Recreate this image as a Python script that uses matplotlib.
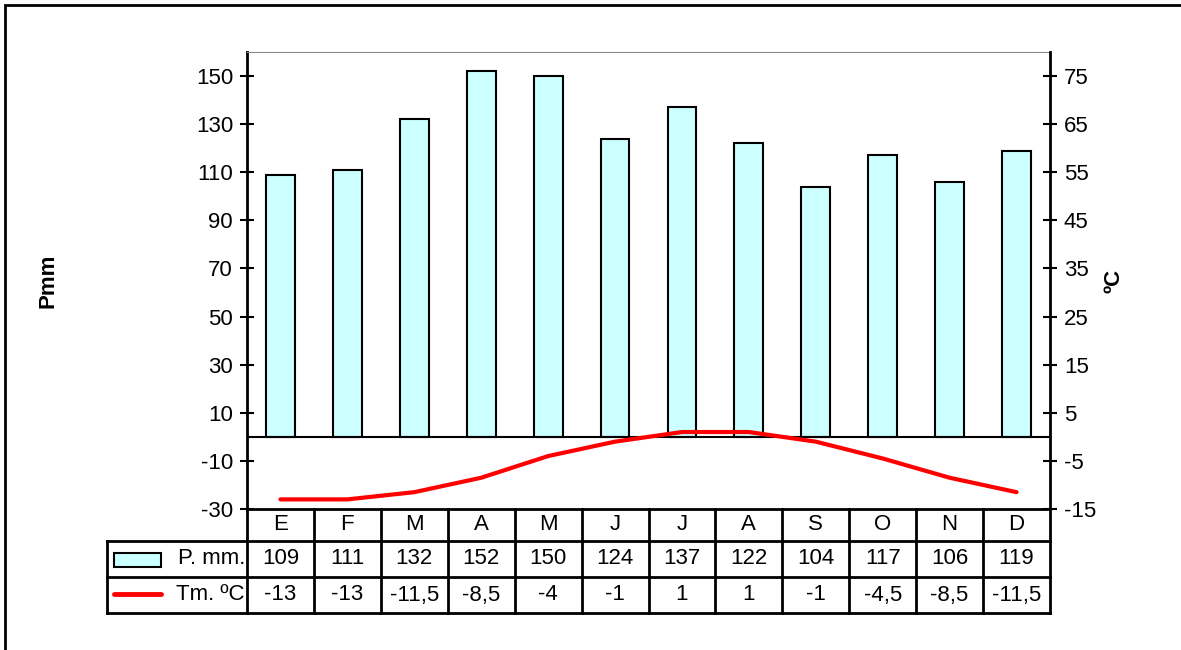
import numpy as np
import matplotlib
matplotlib.use('Agg')
import matplotlib.pyplot as plt
from matplotlib.transforms import blended_transform_factory
from matplotlib.patches import Rectangle
from matplotlib.lines import Line2D

plt.rcParams['font.family'] = ['Liberation Sans', 'DejaVu Sans']
plt.rcParams['axes.unicode_minus'] = False

months = ['E', 'F', 'M', 'A', 'M', 'J', 'J', 'A', 'S', 'O', 'N', 'D']
precip = [109, 111, 132, 152, 150, 124, 137, 122, 104, 117, 106, 119]
temp = [-13, -13, -11.5, -8.5, -4, -1, 1, 1, -1, -4.5, -8.5, -11.5]
temp_labels = ['-13', '-13', '-11,5', '-8,5', '-4', '-1', '1', '1', '-1', '-4,5', '-8,5', '-11,5']
p_ticks = list(range(-30, 151, 20))
t_ticks = list(range(-15, 76, 10))

fs = 16
fig = plt.figure(figsize=(11.81, 6.5), dpi=100)

# outer frame
fig.patches.append(Rectangle((5 / 1181, -0.1), 1.2, (645 / 650) + 0.1, transform=fig.transFigure,
                             fill=False, edgecolor='black', lw=2))

ax = fig.add_axes([247 / 1181, 1 - 509 / 650, 803 / 1181, 457 / 650])
x = np.arange(len(months))

ax.bar(x, precip, width=0.43, color='#ccffff', edgecolor='black', lw=1.5, zorder=2)
ax.axhline(0, color='black', lw=1.5, zorder=3)
ax.set_xlim(-0.5, 11.5)
ax.set_ylim(-30, 160)
ax.set_yticks(p_ticks)
ax.set_xticks([])
ax.tick_params(axis='y', direction='inout', length=10, width=1.5, labelsize=fs, pad=5)
ax.spines['top'].set_color('#888888')
ax.spines['left'].set_linewidth(2)
ax.spines['bottom'].set_linewidth(2)
ax.spines['right'].set_visible(False)
ax.set_ylabel('Pmm', fontsize=fs, fontweight='bold', labelpad=0)
ax.yaxis.set_label_coords(-0.235, 0.5)

ax2 = ax.twinx()
ax2.plot(x, temp, color='red', lw=3, zorder=4, solid_joinstyle='round', solid_capstyle='round')
ax2.set_ylim(-15, 80)
ax2.set_yticks(t_ticks)
ax2.tick_params(axis='y', direction='inout', length=10, width=1.5, labelsize=fs, pad=5)
for s in ['top', 'left', 'bottom']:
    ax2.spines[s].set_visible(False)
ax2.spines['right'].set_linewidth(2)
ax2.set_ylabel('ºC', fontsize=fs, fontweight='bold', rotation=90, labelpad=0)
ax2.yaxis.set_label_coords(1.067, 0.5)

# data table below the axes
tr = blended_transform_factory(ax.transData, ax.transAxes)
ah = 457.0
y_head_bot = -32 / ah
y_p_bot = -68 / ah
y_t_bot = -104 / ah
x_left = -0.5 - 140 / (803 / 12)
lw = 2

def hline(x0, x1, y):
    ax.add_line(Line2D([x0, x1], [y, y], transform=tr, color='black', lw=lw, clip_on=False))

def vline(xx, y0, y1):
    ax.add_line(Line2D([xx, xx], [y0, y1], transform=tr, color='black', lw=lw, clip_on=False))

hline(x_left, 11.5, y_head_bot)
hline(x_left, 11.5, y_p_bot)
hline(x_left, 11.5, y_t_bot)
for i in range(13):
    vline(i - 0.5, 0, y_t_bot)
vline(x_left, y_head_bot, y_t_bot)

for i, m in enumerate(months):
    ax.text(i, y_head_bot / 2, m, transform=tr, ha='center', va='center', fontsize=fs)
    ax.text(i, (y_head_bot + y_p_bot) / 2, str(precip[i]), transform=tr, ha='center', va='center', fontsize=fs)
    ax.text(i, (y_p_bot + y_t_bot) / 2, temp_labels[i], transform=tr, ha='center', va='center', fontsize=fs)

ax.text(-0.53, (y_head_bot + y_p_bot) / 2, 'P. mm.', transform=tr, ha='right', va='center', fontsize=fs)
ax.text(-0.53, (y_p_bot + y_t_bot) / 2, 'Tm. ºC', transform=tr, ha='right', va='center', fontsize=fs)

# legend keys
fig.patches.append(Rectangle((114 / 1181, 1 - 567 / 650), 47 / 1181, 14 / 650, transform=fig.transFigure,
                             facecolor='#ccffff', edgecolor='black', lw=1.5))
fig.lines.append(Line2D([114 / 1181, 161 / 1181], [1 - 594 / 650, 1 - 594 / 650], transform=fig.transFigure,
                        color='red', lw=3.5, solid_capstyle='round'))

fig.savefig('out.png', dpi=100)
